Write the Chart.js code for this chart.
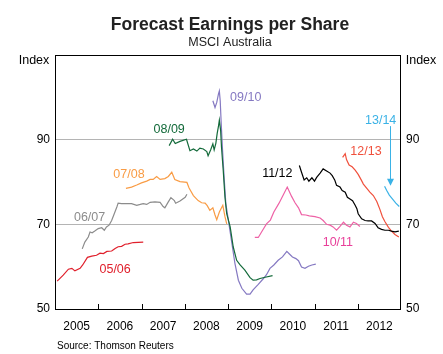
<!DOCTYPE html>
<html>
<head>
<meta charset="utf-8">
<script src="https://cdn.jsdelivr.net/npm/chart.js@4.4.0/dist/chart.umd.min.js"></script>
<style>
  body { margin: 0; background: #fff; }
  #wrap { width: 443px; height: 354px; }
</style>
</head>
<body>
<div id="wrap"><canvas id="myChart"></canvas></div>
<script>
// forecast EPS index by financial year, [year, index]
const fy0506 = [[2005.05,56.6],[2005.19,58.0],[2005.31,59.4],[2005.39,59.6],[2005.46,59.0],[2005.58,59.6],[2005.64,60.4],[2005.75,62.2],[2005.85,62.5],[2005.96,62.7],[2006.04,63.2],[2006.12,63.1],[2006.20,63.6],[2006.31,63.7],[2006.39,64.3],[2006.46,64.7],[2006.54,64.8],[2006.62,65.3],[2006.69,65.4],[2006.81,65.7],[2007.04,65.8]];
const fy0607 = [[2005.63,64.2],[2005.69,65.8],[2005.77,67.0],[2005.81,68.2],[2005.86,68.0],[2005.92,68.4],[2006.00,69.0],[2006.08,69.2],[2006.14,68.6],[2006.19,69.4],[2006.25,69.8],[2006.31,70.9],[2006.37,72.5],[2006.43,74.1],[2006.46,75.0],[2006.54,74.9],[2006.66,74.9],[2006.77,74.9],[2006.89,74.5],[2006.97,74.7],[2007.04,74.9],[2007.12,74.7],[2007.20,75.2],[2007.31,75.3],[2007.43,75.2],[2007.50,74.2],[2007.54,73.9],[2007.62,75.3],[2007.68,76.3],[2007.76,75.6],[2007.79,75.0],[2007.89,75.5],[2008.01,76.4],[2008.05,77.1]];
const fy0708 = [[2006.64,78.5],[2006.77,78.8],[2006.89,79.3],[2007.00,79.8],[2007.12,80.2],[2007.20,80.6],[2007.27,80.6],[2007.35,81.3],[2007.43,80.6],[2007.54,80.8],[2007.62,81.3],[2007.70,82.3],[2007.77,80.6],[2007.89,80.1],[2008.05,79.9],[2008.10,78.6],[2008.20,76.8],[2008.31,75.6],[2008.39,75.1],[2008.47,75.0],[2008.52,74.4],[2008.58,73.3],[2008.65,73.9],[2008.70,72.2],[2008.74,71.1],[2008.80,72.9],[2008.88,74.5],[2008.93,71.8],[2008.97,70.1]];
const fy0809 = [[2007.64,88.6],[2007.72,90.1],[2007.78,89.1],[2007.89,89.6],[2008.04,90.1],[2008.12,87.4],[2008.20,87.8],[2008.28,87.3],[2008.35,88.0],[2008.43,87.8],[2008.51,87.2],[2008.54,86.2],[2008.60,87.6],[2008.65,89.0],[2008.68,87.6],[2008.72,89.2],[2008.75,91.5],[2008.78,93.2],[2008.80,94.6],[2008.83,92.1],[2008.85,88.2],[2008.89,82.7],[2008.93,76.4],[2008.97,72.5],[2009.05,69.4],[2009.12,64.7],[2009.20,61.5],[2009.28,60.4],[2009.39,59.2],[2009.51,57.4],[2009.58,56.8],[2009.66,56.9],[2009.74,57.2],[2009.86,57.5],[2010.03,57.9]];
const fy0910 = [[2008.65,99.2],[2008.70,97.6],[2008.74,98.8],[2008.78,100.8],[2008.80,101.5],[2008.82,99.2],[2008.84,94.5],[2008.87,88.2],[2008.91,81.1],[2008.95,74.9],[2009.01,70.9],[2009.09,65.5],[2009.16,60.8],[2009.24,56.8],[2009.32,54.9],[2009.43,53.5],[2009.51,53.5],[2009.58,54.5],[2009.70,55.8],[2009.82,57.2],[2009.89,58.1],[2009.97,59.6],[2010.06,60.4],[2010.16,61.5],[2010.26,62.3],[2010.36,63.6],[2010.42,63.0],[2010.49,62.3],[2010.57,61.9],[2010.63,61.4],[2010.70,59.9],[2010.78,59.6],[2010.86,60.1],[2010.94,60.4],[2011.03,60.6]];
const fy1011 = [[2009.62,66.9],[2009.70,66.9],[2009.80,68.6],[2009.89,70.1],[2009.98,71.0],[2010.06,72.9],[2010.18,75.0],[2010.28,77.0],[2010.37,78.8],[2010.47,76.6],[2010.55,75.1],[2010.63,73.9],[2010.70,72.3],[2010.80,72.2],[2010.88,72.0],[2011.01,71.8],[2011.13,71.5],[2011.20,70.9],[2011.28,70.0],[2011.36,69.8],[2011.43,69.4],[2011.51,68.6],[2011.59,69.5],[2011.67,70.5],[2011.74,69.8],[2011.82,69.4],[2011.90,70.5],[2011.97,70.2],[2012.05,69.5]];
const fy1112 = [[2010.65,83.9],[2010.70,82.3],[2010.76,80.5],[2010.82,81.0],[2010.87,80.2],[2010.94,81.0],[2011.00,80.2],[2011.05,81.1],[2011.13,82.1],[2011.20,83.1],[2011.28,82.6],[2011.36,82.1],[2011.41,81.5],[2011.47,80.4],[2011.51,79.2],[2011.59,78.8],[2011.64,78.0],[2011.71,77.6],[2011.76,76.4],[2011.82,76.0],[2011.88,75.6],[2011.94,74.5],[2011.98,73.7],[2012.01,72.5],[2012.09,71.3],[2012.17,70.9],[2012.24,70.8],[2012.32,70.8],[2012.40,70.2],[2012.47,69.2],[2012.55,68.8],[2012.63,68.6],[2012.71,68.6],[2012.78,68.4],[2012.86,68.2],[2012.95,68.4]];
const fy1213 = [[2011.65,85.8],[2011.71,86.7],[2011.74,85.3],[2011.80,84.0],[2011.87,83.6],[2011.94,82.8],[2012.01,81.8],[2012.08,80.5],[2012.13,79.5],[2012.21,78.5],[2012.28,77.6],[2012.36,76.8],[2012.44,75.4],[2012.51,73.6],[2012.57,71.8],[2012.63,70.6],[2012.71,69.3],[2012.78,68.4],[2012.86,67.6],[2012.95,67.0]];
const fy1314 = [[2012.62,79.0],[2012.67,78.0],[2012.73,76.9],[2012.81,75.9],[2012.88,75.0],[2012.96,74.2]];

const years = [2005, 2006, 2007, 2008, 2009, 2010, 2011, 2012];
const yTicks = [50, 70, 90];

// label text, colour and where it sits (data units)
const labels = [
  { text: "05/06", x: 2006.39, y: 59.4, color: "#e0202c" },
  { text: "06/07", x: 2005.80, y: 71.6, color: "#8c8c8c" },
  { text: "07/08", x: 2006.71, y: 81.8, color: "#f99c45" },
  { text: "08/09", x: 2007.64, y: 92.4, color: "#136a3a" },
  { text: "09/10", x: 2009.41, y: 100.0, color: "#8579c2" },
  { text: "10/11", x: 2011.54, y: 65.7, color: "#e8409a" },
  { text: "11/12", x: 2010.14, y: 82.1, color: "#000000" },
  { text: "12/13", x: 2012.19, y: 87.3, color: "#f0503c" },
  { text: "13/14", x: 2012.53, y: 94.6, color: "#3ab2e6" },
];
const arrow1314 = { x: 2012.75, from: 93.2, to: 79.1 };

function pts(arr) {
  return arr.map(p => ({ x: p[0], y: p[1] }));
}

function series(data, color) {
  return {
    data: pts(data),
    borderColor: color,
    borderWidth: 1.2,
    pointRadius: 0,
    tension: 0,
    yAxisID: "y",
  };
}

const textPlugin = {
  id: "textPlugin",
  afterDraw(chart) {
    const ctx = chart.ctx;
    const area = chart.chartArea;
    const xs = chart.scales.x;
    const ys = chart.scales.y;
    ctx.save();

    // frame
    ctx.strokeStyle = "#000";
    ctx.lineWidth = 1;
    ctx.strokeRect(area.left + 0.5, area.top + 0.5, area.right - area.left - 1, area.bottom - area.top);

    // year ticks pointing up into the plot
    ctx.beginPath();
    for (let i = 1; i < years.length; i++) {
      const px = Math.round(xs.getPixelForValue(years[i])) + 0.5;
      ctx.moveTo(px, area.bottom);
      ctx.lineTo(px, area.bottom - 5);
    }
    ctx.stroke();

    // titles
    ctx.fillStyle = "#222";
    ctx.textAlign = "center";
    ctx.textBaseline = "middle";
    ctx.font = "bold 17.5px 'Liberation Sans', Arial, sans-serif";
    ctx.fillText("Forecast Earnings per Share", 230, 25);
    ctx.font = "12.5px 'Liberation Sans', Arial, sans-serif";
    ctx.fillText("MSCI Australia", 230, 43);
    ctx.fillStyle = "#000";
    ctx.fillText("Index", 34, 61);
    ctx.fillText("Index", 421, 61);
    ctx.textAlign = "left";
    ctx.font = "10px 'Liberation Sans', Arial, sans-serif";
    ctx.fillText("Source: Thomson Reuters", 57, 346);

    // series labels
    ctx.textAlign = "center";
    ctx.font = "12.5px 'Liberation Sans', Arial, sans-serif";
    labels.forEach(l => {
      ctx.fillStyle = l.color;
      ctx.fillText(l.text, xs.getPixelForValue(l.x), ys.getPixelForValue(l.y));
    });

    // arrow for 13/14
    const ax = Math.round(xs.getPixelForValue(arrow1314.x)) + 0.5;
    const y1 = ys.getPixelForValue(arrow1314.from);
    const y2 = ys.getPixelForValue(arrow1314.to);
    ctx.strokeStyle = "#3ab2e6";
    ctx.fillStyle = "#3ab2e6";
    ctx.lineWidth = 1;
    ctx.beginPath();
    ctx.moveTo(ax, y1);
    ctx.lineTo(ax, y2 - 5);
    ctx.stroke();
    ctx.beginPath();
    ctx.moveTo(ax - 3.5, y2 - 7);
    ctx.lineTo(ax + 3.5, y2 - 7);
    ctx.lineTo(ax, y2);
    ctx.closePath();
    ctx.fill();

    ctx.restore();
  },
};

const tickFont = { family: "'Liberation Sans', Arial, sans-serif", size: 12 };

new Chart(document.getElementById("myChart"), {
  type: "line",
  data: {
    datasets: [
      series(fy0506, "#e0202c"),
      series(fy0607, "#8c8c8c"),
      series(fy0708, "#f99c45"),
      series(fy0809, "#136a3a"),
      series(fy0910, "#8579c2"),
      series(fy1011, "#ee62a6"),
      series(fy1112, "#000000"),
      series(fy1213, "#f0503c"),
      series(fy1314, "#3ab2e6"),
    ],
  },
  options: {
    responsive: true,
    maintainAspectRatio: false,
    animation: false,
    layout: { padding: { top: 55, left: 0, right: 0, bottom: 0 } },
    plugins: {
      legend: { display: false },
      tooltip: { enabled: false },
    },
    scales: {
      x: {
        type: "linear",
        min: 2005,
        max: 2013,
        grid: { display: false },
        border: { display: false },
        afterBuildTicks: scale => {
          scale.ticks = years.map(y => ({ value: y + 0.5 }));
        },
        afterFit: scale => { scale.height = 45; },
        ticks: {
          autoSkip: false,
          maxRotation: 0,
          padding: 2,
          color: "#000",
          font: tickFont,
          callback: v => String(Math.floor(v)),
        },
      },
      y: {
        position: "left",
        min: 50,
        max: 110,
        afterBuildTicks: scale => {
          scale.ticks = yTicks.map(v => ({ value: v }));
        },
        afterFit: scale => { scale.width = 55; },
        border: { display: false },
        grid: {
          drawTicks: false,
          color: c => (c.tick && (c.tick.value === 70 || c.tick.value === 90)) ? "#b4b4b4" : "rgba(0,0,0,0)",
        },
        ticks: { padding: 5, color: "#000", font: tickFont },
      },
      y2: {
        position: "right",
        min: 50,
        max: 110,
        afterBuildTicks: scale => {
          scale.ticks = yTicks.map(v => ({ value: v }));
        },
        afterFit: scale => { scale.width = 42; },
        border: { display: false },
        grid: { display: false, drawTicks: false },
        ticks: { padding: 5, color: "#000", font: tickFont },
      },
    },
  },
  plugins: [textPlugin],
});
</script>
</body>
</html>
